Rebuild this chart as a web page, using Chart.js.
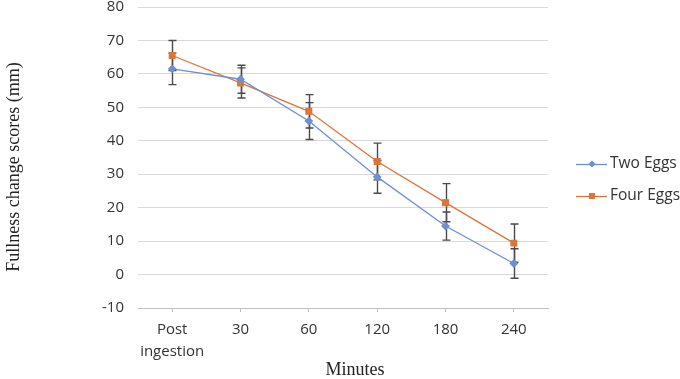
<!DOCTYPE html>
<html><head><meta charset="utf-8">
<script src="https://cdn.jsdelivr.net/npm/chart.js@4"></script>
<style>html,body{margin:0;padding:0;background:#fff}#wrap{width:680px;height:379px}</style>
</head><body><div id="wrap"><canvas id="c" width="680" height="379"></canvas></div>
<script>
const categories = [["Post","ingestion"],"30","60","120","180","240"];
const twoEggs = [61.5,58.4,45.9,29.2,14.5,3.3];
const twoEggsErr = [4.7,4.2,5.5,4.9,4.2,4.4];
const fourEggs = [65.5,57.3,48.8,33.8,21.5,9.4];
const fourEggsErr = [4.5,4.5,5.0,5.5,5.7,5.7];
const yMin = -10, yMax = 80, yStep = 10;
const seriesNames = ["Two Eggs","Four Eggs"];
const xTitle = "Minutes";
const yTitle = "Fullness change scores (mm)";

const BLUE = '#6f8fd0', ORANGE = '#d9773a';
const tickFont = {family:"'Open Sans'", size:15, lineHeight:1.5};

const errorBars = {
  id:'errorBars',
  beforeDatasetsDraw(chart){
    const {ctx, scales:{x,y}} = chart;
    ctx.save(); ctx.strokeStyle='#4a4a4a'; ctx.lineWidth=1.4;
    chart.data.datasets.forEach(ds=>{
      ds.data.forEach((v,j)=>{
        const px = Math.round(x.getPixelForValue(j))+0.5;
        const top = y.getPixelForValue(v+ds.errors[j]), bot = y.getPixelForValue(v-ds.errors[j]);
        ctx.beginPath();
        ctx.moveTo(px,top); ctx.lineTo(px,bot);
        ctx.moveTo(px-4,top); ctx.lineTo(px+4,top);
        ctx.moveTo(px-4,bot); ctx.lineTo(px+4,bot);
        ctx.stroke();
      });
    });
    ctx.restore();
  }
};

const extras = {
  id:'extras',
  afterDraw(chart){
    const {ctx, chartArea} = chart;
    ctx.save();
    // legend
    const lx = chartArea.right + 28;
    const rows = [164,196];
    chart.data.datasets.forEach((ds,i)=>{
      const yy = rows[i];
      ctx.strokeStyle = ds.borderColor; ctx.lineWidth = 1.3;
      ctx.beginPath(); ctx.moveTo(lx,yy+0.5); ctx.lineTo(lx+31,yy+0.5); ctx.stroke();
      ctx.fillStyle = ds.backgroundColor;
      if (ds.pointStyle==='rect'){ ctx.fillRect(lx+13,yy-3,6,6); }
      else { ctx.beginPath(); ctx.moveTo(lx+16,yy-3.5); ctx.lineTo(lx+19.5,yy); ctx.lineTo(lx+16,yy+3.5); ctx.lineTo(lx+12.5,yy); ctx.closePath(); ctx.fill(); }
      ctx.fillStyle = '#333'; ctx.font = "15.5px 'Open Sans'";
      ctx.textAlign='left'; ctx.textBaseline='middle';
      ctx.fillText(ds.label, lx+34, yy);
    });
    // axis titles
    ctx.fillStyle = '#222'; ctx.font = "18px 'Liberation Serif'";
    ctx.textAlign='center'; ctx.textBaseline='middle';
    ctx.fillText(xTitle, 355, 370);
    ctx.translate(14,167); ctx.rotate(-Math.PI/2);
    ctx.fillText(yTitle, 0, 0);
    ctx.restore();
  }
};

new Chart(document.getElementById('c'), {
  type:'line',
  data:{
    labels:categories,
    datasets:[
      {label:seriesNames[0], data:twoEggs, errors:twoEggsErr, borderColor:BLUE, backgroundColor:BLUE,
       borderWidth:1.3, pointStyle:'rectRot', pointRadius:3.5, pointHoverRadius:3.5, tension:0},
      {label:seriesNames[1], data:fourEggs, errors:fourEggsErr, borderColor:ORANGE, backgroundColor:ORANGE,
       borderWidth:1.3, pointStyle:'rect', pointRadius:4, pointHoverRadius:4, tension:0}
    ]
  },
  options:{
    responsive:false, animation:false, devicePixelRatio:1,
    layout:{padding:{left:0,right:132,top:7,bottom:0}},
    plugins:{legend:{display:false}, tooltip:{enabled:false}},
    scales:{
      x:{
        offset:true,
        grid:{display:true, drawOnChartArea:false, drawTicks:true, tickLength:4, color:'#bfbfbf', offset:false},
        border:{display:true, color:'#bfbfbf', width:1},
        ticks:{font:tickFont, color:'#333', padding:6, maxRotation:0, autoSkip:false},
        afterFit(s){ s.height = 71; s.paddingLeft = 0; s.paddingRight = 0; }
      },
      y:{
        min:yMin, max:yMax,
        grid:{color:'#d9d9d9', drawTicks:false, lineWidth:1},
        border:{display:false},
        ticks:{stepSize:yStep, font:tickFont, color:'#333', padding:14},
        afterFit(s){ s.width = 138; s.paddingTop = 0; s.paddingBottom = 0; }
      }
    }
  },
  plugins:[errorBars, extras]
});
</script></body></html>
